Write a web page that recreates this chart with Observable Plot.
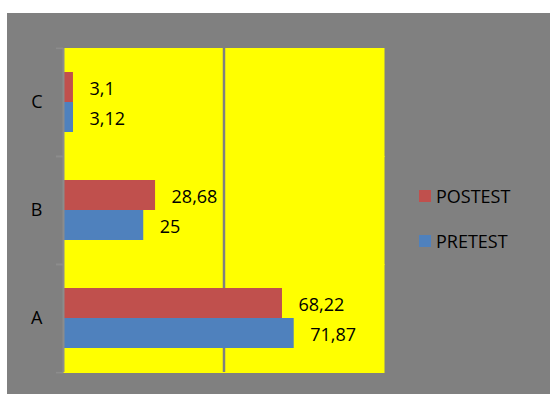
<!DOCTYPE html>
<html>
<head>
<meta charset="utf-8">
<script src="https://cdn.jsdelivr.net/npm/d3@7"></script>
<script src="https://cdn.jsdelivr.net/npm/@observablehq/plot@0.6"></script>
<style>
  html, body { margin: 0; padding: 0; background: #ffffff; }
  #wrap { position: relative; width: 550px; height: 394px; background: #ffffff; overflow: hidden; font-family: "Open Sans", sans-serif; }
  #chart { position: absolute; left: 7px; top: 13px; }
  .lg-sq { position: absolute; width: 12px; height: 12px; }
  .lg-tx { position: absolute; font-size: 18px; line-height: 18px; color: #000; white-space: nowrap; }
</style>
</head>
<body>
<div id="wrap">
  <div id="chart"></div>
</div>
<script>
const categories = ["C", "B", "A"];
const series = ["POSTEST", "PRETEST"];
const postest = [3.1, 28.68, 68.22];
const pretest = [3.12, 25, 71.87];
const gridValues = [50];
const seriesColors = ["#C0504D", "#4F81BD"];

const data = categories.flatMap((c, i) => [
  {cat: c, series: "POSTEST", value: postest[i]},
  {cat: c, series: "PRETEST", value: pretest[i]}
]);
const fmt = v => String(v).replace(".", ",");

const W = 543, H = 381, mT = 34, mB = 22, mL = 56, mR = 166;
const band = (H - mT - mB) / categories.length;

const chart = Plot.plot({
  width: W, height: H,
  marginLeft: mL, marginTop: mT, marginRight: mR, marginBottom: mB,
  style: {background: "#808080", fontFamily: "Open Sans", fontSize: "18px", color: "#000", overflow: "visible"},
  x: {domain: [0, 100], axis: null},
  y: {domain: series, paddingInner: 0, paddingOuter: 0.76, axis: null},
  fy: {domain: categories, padding: 0, label: null, axis: null},
  color: {domain: series, range: seriesColors},
  marks: [
    Plot.frame({fill: "#FFFF00", stroke: null, insetTop: -0.5, insetBottom: -0.5}),
    Plot.ruleX(gridValues, {stroke: "#808080", strokeWidth: 2.5}),
    Plot.barX(data, {fy: "cat", y: "series", x: "value", fill: "series"}),
    Plot.text(data, {fy: "cat", y: "series", x: "value", text: d => fmt(d.value), textAnchor: "start", dx: 16, dy: 2, fill: "#000", fontSize: 18}),
    Plot.ruleX([0], {stroke: "#8c8c8c", strokeWidth: 2}),
    Plot.axisFy({anchor: "left", tickSize: 0, tickPadding: 21, label: null, fill: "#000", fontSize: 18}),
    Plot.axisFy({anchor: "left", tickSize: 7, tickFormat: () => "", label: null, dy: -band / 2, stroke: "#8c8c8c", strokeWidth: 1.5}),
    Plot.axisFy({anchor: "left", tickSize: 7, tickFormat: () => "", label: null, dy: band / 2, stroke: "#8c8c8c", strokeWidth: 1.5})
  ]
});
document.getElementById("chart").appendChild(chart);

// legend
const wrap = document.getElementById("wrap");
const legendTops = [190, 235];
series.forEach((s, i) => {
  const sq = document.createElement("div");
  sq.className = "lg-sq";
  sq.style.left = "419px";
  sq.style.top = legendTops[i] + "px";
  sq.style.background = seriesColors[i];
  wrap.appendChild(sq);
  const tx = document.createElement("div");
  tx.className = "lg-tx";
  tx.style.left = "436px";
  tx.style.top = (legendTops[i] - 3) + "px";
  tx.textContent = s;
  wrap.appendChild(tx);
});
</script>
</body>
</html>
